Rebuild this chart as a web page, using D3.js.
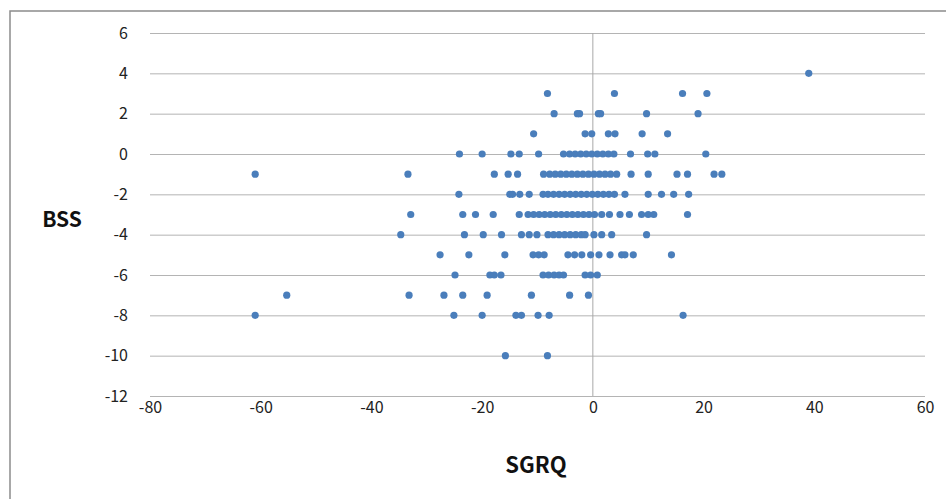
<!DOCTYPE html>
<html>
<head>
<meta charset="utf-8">
<script src="https://cdn.jsdelivr.net/npm/d3@7"></script>
<style>
  body { margin: 0; background: #fff; }
  text { font-family: "Noto Sans CJK KR", "Noto Sans", sans-serif; }
</style>
</head>
<body>
<script>
// BSS levels (y) and the SGRQ values (x) of the points sitting on each level
var bssLevels = [4, 3, 2, 1, 0, -1, -2, -3, -4, -5, -6, -7, -8, -10];
var sgrqAtLevel = [
  [39],
  [-8.2, 3.9, 16.2, 20.6],
  [-7.0, -2.8, -2.4, 1.0, 1.4, 9.7, 19.0],
  [-10.7, -1.4, -0.2, 2.8, 4.0, 8.9, 13.5],
  [-24.1, -20.0, -14.8, -13.3, -9.8, -5.3, -4.2, -3.2, -2.2, -1.2, -0.2, 0.8, 1.8, 2.8, 3.8, 6.8, 9.9, 11.2, 20.4],
  [-61, -33.4, -17.8, -15.3, -13.6, -8.9, -7.8, -6.8, -5.8, -4.8, -3.8, -2.8, -1.8, -0.8, 0.2, 1.2, 2.2, 3.2, 4.3, 6.9, 10.0, 15.2, 17.1, 21.9, 23.3],
  [-24.2, -15.0, -14.5, -13.2, -11.5, -9.0, -8.1, -7.1, -6.1, -5.1, -4.1, -3.1, -2.1, -1.1, -0.1, 0.9, 1.9, 2.9, 3.9, 5.8, 10.0, 12.4, 14.6, 17.3],
  [-32.9, -23.5, -21.2, -18.0, -13.3, -11.7, -10.7, -9.7, -8.7, -7.7, -6.7, -5.7, -4.7, -3.7, -2.7, -1.7, -0.7, 0.3, 1.6, 3.0, 4.9, 6.6, 8.8, 10.0, 11.0, 17.1],
  [-34.7, -23.2, -19.8, -16.5, -12.9, -11.5, -10.1, -8.1, -7.1, -6.1, -5.1, -4.1, -3.1, -2.1, -1.4, 0.2, 1.6, 3.4, 9.7],
  [-27.6, -22.4, -15.9, -10.8, -9.8, -8.8, -4.5, -3.3, -2.0, -0.4, 1.1, 3.1, 5.2, 5.8, 7.3, 14.2],
  [-24.9, -18.6, -17.8, -16.6, -9.0, -8.0, -7.0, -6.1, -5.3, -1.4, -0.4, 0.8],
  [-55.3, -33.2, -26.9, -23.5, -19.1, -11.1, -4.2, -0.8],
  [-61, -25.1, -20.0, -13.9, -12.9, -9.9, -7.9, 16.3],
  [-15.8, -8.2]
];
var xTicks = [-80, -60, -40, -20, 0, 20, 40, 60];
var yTicks = [6, 4, 2, 0, -2, -4, -6, -8, -10, -12];

var data = [];
bssLevels.forEach(function (b, i) {
  sgrqAtLevel[i].forEach(function (s) { data.push({ sgrq: s, bss: b }); });
});

var margin = { top: 33, right: 21, bottom: 103, left: 150 },
    width = 946 - margin.left - margin.right,
    height = 499 - margin.top - margin.bottom;

var x = d3.scaleLinear().domain([-80, 60]).range([0, width]);
var y = d3.scaleLinear().domain([-12, 6]).range([height, 0]);

// plain hyphen for negatives, like the original
var fmt = function (d) { return String(d); };

var svg = d3.select("body").append("svg")
    .attr("width", 946)
    .attr("height", 499);

// chart border
svg.append("rect")
    .attr("x", 10).attr("y", 11)
    .attr("width", 950).attr("height", 500)
    .attr("fill", "none")
    .attr("stroke", "#8c8c8c")
    .attr("stroke-width", 1.5);

var g = svg.append("g")
    .attr("transform", "translate(" + margin.left + "," + margin.top + ")");

// horizontal gridlines + y labels
var yAxis = g.append("g")
    .call(d3.axisLeft(y).tickValues(yTicks).tickSize(-width).tickPadding(22).tickFormat(fmt));
yAxis.select(".domain").remove();
yAxis.selectAll("line").attr("stroke", "#b4b4b4");
yAxis.selectAll("text").attr("font-size", 16).attr("fill", "#222");

// x labels (no tick marks)
var xAxis = g.append("g")
    .attr("transform", "translate(0," + height + ")")
    .call(d3.axisBottom(x).tickValues(xTicks).tickSize(0).tickPadding(6).tickFormat(fmt));
xAxis.select(".domain").remove();
xAxis.selectAll("text").attr("font-size", 16).attr("fill", "#222");

// vertical axis line at SGRQ = 0
g.append("line")
    .attr("x1", x(0)).attr("x2", x(0))
    .attr("y1", 0).attr("y2", height)
    .attr("stroke", "#a8a8a8");

// points
g.selectAll(".dot")
    .data(data)
    .enter().append("circle")
    .attr("class", "dot")
    .attr("cx", function (d) { return x(d.sgrq); })
    .attr("cy", function (d) { return y(d.bss); })
    .attr("r", 3.6)
    .attr("fill", "#4a7ebb");

// axis titles
svg.append("text")
    .attr("x", 62).attr("y", 227)
    .attr("text-anchor", "middle")
    .attr("font-size", 21).attr("font-weight", "bold")
    .attr("fill", "#111")
    .text("BSS");

svg.append("text")
    .attr("x", 536).attr("y", 473)
    .attr("text-anchor", "middle")
    .attr("font-size", 22).attr("font-weight", "bold")
    .attr("fill", "#111")
    .text("SGRQ");
</script>
</body>
</html>
